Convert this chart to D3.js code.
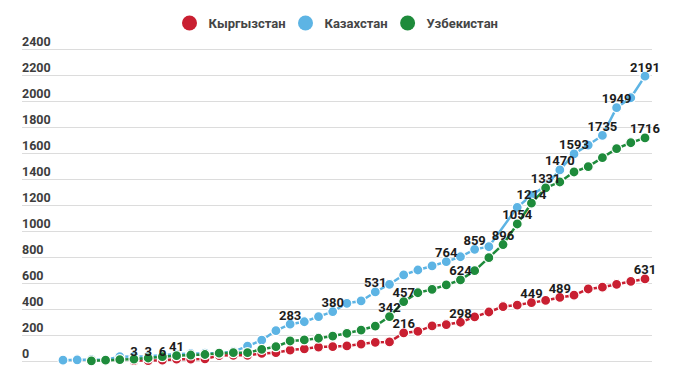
<!DOCTYPE html>
<html>
<head>
<meta charset="utf-8">
<script src="https://cdn.jsdelivr.net/npm/d3@7.9.0/dist/d3.min.js"></script>
<style>
  html, body { margin: 0; padding: 0; background: #fff; }
  svg { display: block; font-family: Roboto, sans-serif; }
</style>
</head>
<body>
<div id="chart"></div>
<script>
const dates = [
  '13.03', '14.03', '15.03', '16.03', '17.03', '18.03', '19.03', '20.03', '21.03', '22.03',
  '23.03', '24.03', '25.03', '26.03', '27.03', '28.03', '29.03', '30.03', '31.03', '01.04',
  '02.04', '03.04', '04.04', '05.04', '06.04', '07.04', '08.04', '09.04', '10.04', '11.04',
  '12.04', '13.04', '14.04', '15.04', '16.04', '17.04', '18.04', '19.04', '20.04', '21.04',
  '22.04', '23.04',
];

const kyrgyzstan = [
  null, null, null, null, null, 3, 3, 6, 14, 14,
  16, 42, 44, 44, 58, 64, 84, 94, 107, 111,
  116, 130, 144, 147, 216, 228, 270, 280, 298, 339,
  377, 419, 430, 449, 466, 489, 506, 554, 568, 590,
  612, 631,
];

const kazakhstan = [
  6, 9, 10, 10, 33, 35, 36, 44, 53, 56,
  60, 62, 72, 115, 160, 233, 283, 302, 341, 380,
  444, 462, 531, 590, 662, 700, 731, 764, 802, 859,
  879, null, 1182, 1275, 1345, 1470, 1593, 1661, 1735, 1949,
  2025, 2191,
];

const uzbekistan = [
  null, null, 1, 6, 10, 15, 23, 33, 41, 46,
  50, 60, 64, 64, 90, 110, 154, 162, 175, 192,
  213, 238, 269, 342, 457, 525, 551, 585, 624, 695,
  795, 896, 1054, 1214, 1331, 1377, 1454, 1495, 1564, 1633,
  1679, 1716,
];

const yTicks = [0, 200, 400, 600, 800, 1000, 1200, 1400, 1600, 1800, 2000, 2200, 2400];

// which points carry a value label
const labelIdx = {
  'Кыргызстан': [5, 6, 7, 24, 28, 33, 35, 41],
  'Казахстан': [16, 19, 22, 27, 29, 35, 36, 38, 39, 41],
  'Узбекистан': [8, 23, 24, 28, 31, 32, 33, 34, 41],
};

const series = [
  { name: 'Кыргызстан', color: '#c91f31', values: kyrgyzstan },
  { name: 'Казахстан', color: '#5db4e4', values: kazakhstan },
  { name: 'Узбекистан', color: '#1e8b3b', values: uzbekistan },
];

const width = 683;
const height = 373;

const svg = d3
  .select('#chart')
  .append('svg')
  .attr('width', width)
  .attr('height', height);

const xScale = d3.scalePoint().domain(dates).range([63, 645]);
const yScale = d3.scaleLinear().domain([0, 2400]).range([361, 49]);

// gridlines + tick labels
const grid = svg.append('g').attr('class', 'grid');
grid
  .selectAll('line')
  .data(yTicks)
  .join('line')
  .attr('x1', 22)
  .attr('x2', 652)
  .attr('y1', (d) => Math.round(yScale(d)) + 0.5)
  .attr('y2', (d) => Math.round(yScale(d)) + 0.5)
  .attr('stroke', '#dcdcdc')
  .attr('stroke-width', 1);

grid
  .selectAll('text')
  .data(yTicks)
  .join('text')
  .attr('x', 22)
  .attr('y', (d) => yScale(d) - 3.5)
  .attr('font-size', 12.5)
  .attr('font-weight', 700)
  .attr('fill', '#3d3d3d')
  .text((d) => d);

const line = d3
  .line()
  .x((d) => xScale(d.date))
  .y((d) => yScale(d.value));

series.forEach((s) => {
  const points = dates
    .map((date, i) => ({ date, value: s.values[i], i }))
    .filter((d) => d.value != null);
  s.points = points;

  const g = svg.append('g').attr('class', 'series');
  g.append('path')
    .datum(points)
    .attr('d', line)
    .attr('fill', 'none')
    .attr('stroke', s.color)
    .attr('stroke-width', 2.5);

  g.selectAll('circle')
    .data(points)
    .join('circle')
    .attr('cx', (d) => xScale(d.date))
    .attr('cy', (d) => yScale(d.value))
    .attr('r', 5)
    .attr('fill', s.color)
    .attr('stroke', '#fff')
    .attr('stroke-width', 1.2);
});

// value labels on top of everything
const labels = svg.append('g').attr('class', 'labels');
series.forEach((s) => {
  const picked = s.points.filter((d) => labelIdx[s.name].includes(d.i));
  labels
    .selectAll(null)
    .data(picked)
    .join('text')
    .attr('x', (d) => xScale(d.date))
    .attr('y', (d) => yScale(d.value) - 4.5)
    .attr('text-anchor', 'middle')
    .attr('font-size', 13)
    .attr('font-weight', 700)
    .attr('fill', '#1c1c1c')
    .text((d) => d.value);
});

// legend
const legend = svg.append('g').attr('class', 'legend');
let lx = 189.5;
series.forEach((s) => {
  legend
    .append('circle')
    .attr('cx', lx)
    .attr('cy', 23)
    .attr('r', 7.5)
    .attr('fill', s.color);
  const t = legend
    .append('text')
    .attr('x', lx + 19)
    .attr('y', 28)
    .attr('font-size', 13)
    .attr('font-weight', 700)
    .attr('fill', '#454545')
    .text(s.name);
  lx = lx + 19 + t.node().getComputedTextLength() + 20;
});
</script>
</body>
</html>
